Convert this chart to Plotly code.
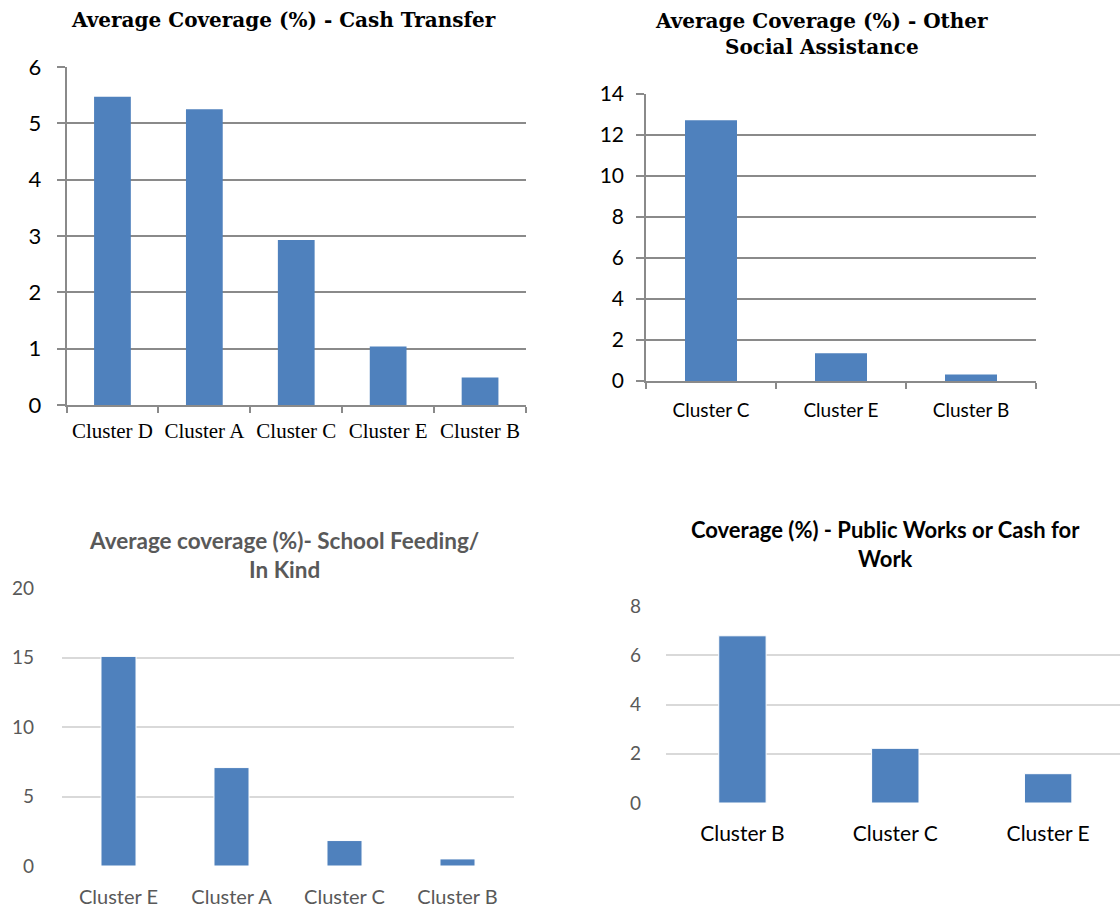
import plotly.graph_objects as go

# ---- data ----
cash_categories = ["Cluster D", "Cluster A", "Cluster C", "Cluster E", "Cluster B"]
cash_values = [5.47, 5.25, 2.93, 1.04, 0.49]

other_categories = ["Cluster C", "Cluster E", "Cluster B"]
other_values = [12.72, 1.35, 0.32]

school_categories = ["Cluster E", "Cluster A", "Cluster C", "Cluster B"]
school_values = [15.08, 7.08, 1.83, 0.51]

works_categories = ["Cluster B", "Cluster C", "Cluster E"]
works_values = [6.79, 2.22, 1.19]

titles = [
    "Average Coverage (%) - Cash Transfer",
    "Average Coverage (%) - Other<br>Social Assistance",
    "Average coverage (%)- School Feeding/<br>In Kind",
    "Coverage (%) - Public Works or Cash for<br>Work",
]

W, H = 1120, 909
BAR = "#4F81BD"

def px(x):
    return x / W

def py(y):
    return 1 - y / H

fig = go.Figure()

fig.add_trace(go.Bar(x=cash_categories, y=cash_values, marker=dict(color=BAR, line=dict(width=0)),
                     width=0.4, xaxis="x", yaxis="y"))
fig.add_trace(go.Bar(x=other_categories, y=other_values, marker=dict(color=BAR, line=dict(width=0)),
                     width=0.4, xaxis="x2", yaxis="y2"))
fig.add_trace(go.Bar(x=school_categories, y=school_values, marker=dict(color=BAR, line=dict(color="white", width=1)),
                     width=0.31, xaxis="x3", yaxis="y3"))
fig.add_trace(go.Bar(x=works_categories, y=works_values, marker=dict(color=BAR, line=dict(color="white", width=1)),
                     width=0.31, xaxis="x4", yaxis="y4"))

old_grid = "#8A8A8A"
new_grid = "#D9D9D9"

layout = dict(
    width=W, height=H,
    margin=dict(l=0, r=0, t=0, b=0, autoexpand=False),
    paper_bgcolor="white", plot_bgcolor="white",
    showlegend=False,
    # chart 1
    xaxis=dict(domain=[px(66.5), px(526)], anchor="y", showline=True, linecolor=old_grid, linewidth=1.5,
               ticks="outside", tickson="boundaries", ticklen=6, tickcolor=old_grid, tickwidth=1.5,
               tickfont=dict(family="Liberation Serif", size=21, color="black"), showgrid=False,
               range=[-0.5, 4.5], automargin=False, ticklabelstandoff=6),
    yaxis=dict(domain=[py(405), py(67)], anchor="x", range=[0, 6], dtick=1, showline=True,
               linecolor=old_grid, linewidth=1.5, ticks="outside", ticklen=8, tickcolor=old_grid, tickwidth=1.5,
               showgrid=True, gridcolor=old_grid, gridwidth=1.5, zeroline=False,
               tickfont=dict(family="Lato", size=22, color="black"), ticklabelstandoff=11,
               automargin=False),
    # chart 2
    xaxis2=dict(domain=[px(646), px(1036)], anchor="y2", showline=True, linecolor=old_grid, linewidth=1.5,
                ticks="outside", tickson="boundaries", ticklen=6, tickcolor=old_grid, tickwidth=1.5,
                tickfont=dict(family="Lato", size=19, color="black"), showgrid=False,
                range=[-0.5, 2.5], ticklabelstandoff=11, automargin=False),
    yaxis2=dict(domain=[py(381), py(94)], anchor="x2", range=[0, 14], dtick=2, showline=True,
                linecolor=old_grid, linewidth=1.5, ticks="outside", ticklen=8, tickcolor=old_grid, tickwidth=1.5,
                showgrid=True, gridcolor=old_grid, gridwidth=1.5, zeroline=False,
                tickfont=dict(family="Lato", size=21, color="black"), ticklabelstandoff=8,
                automargin=False),
    # chart 3
    xaxis3=dict(domain=[px(62), px(514)], anchor="y3", showline=False, ticks="",
                tickfont=dict(family="Lato", size=20, color="#595959"), showgrid=False,
                range=[-0.5, 3.5], ticklabelstandoff=17, automargin=False),
    yaxis3=dict(domain=[py(866), py(588)], anchor="x3", range=[0, 20], dtick=5, showline=False,
                ticks="", showgrid=True, gridcolor=new_grid, gridwidth=1.5, zeroline=False,
                tickfont=dict(family="Lato", size=19, color="#595959"), ticklabelstandoff=27,
                automargin=False),
    # chart 4
    xaxis4=dict(domain=[px(666), 1.0], anchor="y4", showline=False, ticks="",
                tickfont=dict(family="Lato", size=21, color="black"), showgrid=False,
                range=[-0.5, 2.47], ticklabelstandoff=16, automargin=False),
    yaxis4=dict(domain=[py(803), py(606)], anchor="x4", range=[0, 8], dtick=2, showline=False,
                ticks="", showgrid=True, gridcolor=new_grid, gridwidth=1.5, zeroline=False,
                tickfont=dict(family="Lato", size=19, color="#595959"), ticklabelstandoff=24,
                automargin=False),
)
fig.update_layout(**layout)

annotations = [
    dict(text="<b>" + titles[0] + "</b>", x=px(283), y=py(20),
         font=dict(family="DejaVu Serif", size=20, color="black")),
    dict(text="<b>" + titles[1].replace("<br>", "</b><br><b>") + "</b>", x=px(822), y=py(34),
         font=dict(family="DejaVu Serif", size=20, color="black")),
    dict(text="<b>" + titles[2].replace("<br>", "</b><br><b>") + "</b>", x=px(284), y=py(555),
         font=dict(family="Lato", size=22.5, color="#595959")),
    dict(text="<b>" + titles[3].replace("<br>", "</b><br><b>") + "</b>", x=px(885), y=py(544),
         font=dict(family="Lato", size=22, color="black")),
]
for a in annotations:
    fig.add_annotation(xref="paper", yref="paper", showarrow=False, xanchor="center", yanchor="middle",
                       align="center", **a)

fig.write_html("out.html", config={"displayModeBar": False},
               post_script="document.body.style.margin='0';document.body.style.overflow='hidden';")
